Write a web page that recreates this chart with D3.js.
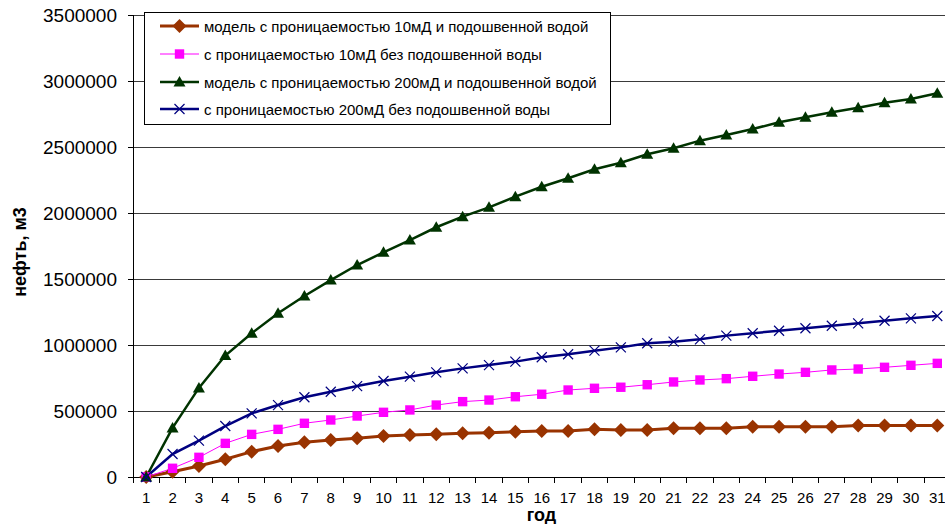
<!DOCTYPE html>
<html>
<head>
<meta charset="utf-8">
<script src="https://cdn.jsdelivr.net/npm/d3@7"></script>
<style>
  body { margin: 0; background: #fff; }
  svg { display: block; font-family: "Liberation Sans", Arial, sans-serif; }
</style>
</head>
<body>
<svg id="chart" width="945" height="524"></svg>
<script>
// годы (категории оси X)
const years = d3.range(1, 32);

// добыча нефти, м3
const k10water = [0, 40000, 83000, 134000, 192000, 235000, 263000, 280000, 293000, 311000,
  318000, 323000, 331000, 336000, 343000, 348000, 348000, 361000, 356000, 356000,
  369000, 369000, 369000, 381000, 381000, 381000, 381000, 391000, 391000, 391000, 391000];
const k10dry = [0, 66000, 149000, 255000, 323000, 361000, 407000, 432000, 462000, 490000,
  508000, 545000, 571000, 583000, 608000, 627000, 659000, 672000, 680000, 699000,
  720000, 735000, 745000, 763000, 780000, 793000, 811000, 818000, 831000, 846000, 861000];
const k200water = [0, 372000, 675000, 920000, 1089000, 1240000, 1371000, 1492000, 1606000, 1702000,
  1795000, 1892000, 1972000, 2043000, 2124000, 2199000, 2263000, 2331000, 2381000, 2445000,
  2490000, 2548000, 2591000, 2636000, 2687000, 2725000, 2763000, 2798000, 2836000, 2864000, 2907000];
const k200dry = [0, 174000, 275000, 386000, 482000, 545000, 604000, 646000, 689000, 727000,
  760000, 793000, 823000, 848000, 874000, 907000, 930000, 957000, 982000, 1013000,
  1025000, 1043000, 1071000, 1089000, 1108000, 1127000, 1146000, 1164000, 1184000, 1202000, 1220000];

const yTicks = d3.range(0, 3500001, 500000);

const seriesNames = [
  "модель с проницаемостью 10мД и подошвенной водой",
  "с проницаемостью 10мД без подошвенной воды",
  "модель с проницаемостью 200мД и подошвенной водой",
  "с проницаемостью 200мД без подошвенной воды"
];

const series = [
  { name: seriesNames[0], values: k10water, color: "#993300", width: 3, marker: "diamond", size: 7 },
  { name: seriesNames[1], values: k10dry, color: "#ff00ff", width: 1, marker: "square", size: 4.7 },
  { name: seriesNames[2], values: k200water, color: "#003300", width: 2.5, marker: "triangle", size: 6 },
  { name: seriesNames[3], values: k200dry, color: "#000080", width: 2.5, marker: "cross", size: 5 }
];

const svg = d3.select("#chart");
const margin = { left: 133, top: 15, bottom: 477 };
const bandW = 26.37;

const x = d3.scaleBand()
  .domain(years)
  .range([margin.left, margin.left + years.length * bandW])
  .padding(0);
const y = d3.scaleLinear()
  .domain([0, 3500000])
  .range([margin.bottom, margin.top]);

const cx = d => x(d) + x.bandwidth() / 2;

// сетка
svg.append("g")
  .selectAll("line")
  .data(yTicks.filter(t => t > 0))
  .join("line")
  .attr("x1", margin.left).attr("x2", 945)
  .attr("y1", d => y(d)).attr("y2", d => y(d))
  .attr("stroke", "#3a3a3a")
  .attr("stroke-width", 1)
  .attr("shape-rendering", "crispEdges");

// ось Y
const yAxis = svg.append("g")
  .attr("transform", `translate(${margin.left},0)`)
  .call(d3.axisLeft(y).tickValues(yTicks).tickSize(5).tickPadding(11).tickFormat(d3.format("d")));
yAxis.select(".domain").attr("stroke", "#000").attr("shape-rendering", "crispEdges");
yAxis.selectAll(".tick line").attr("stroke", "#000").attr("shape-rendering", "crispEdges");
yAxis.selectAll("text")
  .attr("fill", "#000")
  .style("font-size", "19px")
  .style("font-family", "'Liberation Sans', Arial, sans-serif");

// ось X
svg.append("line")
  .attr("x1", margin.left).attr("x2", 945)
  .attr("y1", y(0)).attr("y2", y(0))
  .attr("stroke", "#000")
  .attr("shape-rendering", "crispEdges");

svg.append("g")
  .selectAll("line")
  .data(years)
  .join("line")
  .attr("x1", d => x(d)).attr("x2", d => x(d))
  .attr("y1", y(0)).attr("y2", y(0) + 6)
  .attr("stroke", "#000")
  .attr("shape-rendering", "crispEdges");

svg.append("g")
  .selectAll("text")
  .data(years)
  .join("text")
  .attr("x", cx)
  .attr("y", 503)
  .attr("text-anchor", "middle")
  .style("font-size", "15px")
  .text(d => d);

// подписи осей
svg.append("text")
  .attr("x", (margin.left + 950) / 2)
  .attr("y", 521)
  .attr("text-anchor", "middle")
  .style("font-size", "18px")
  .style("font-weight", "bold")
  .text("год");

svg.append("text")
  .attr("transform", "translate(26,252) rotate(-90)")
  .attr("text-anchor", "middle")
  .style("font-size", "18px")
  .style("font-weight", "bold")
  .text("нефть, м3");

// линии рядов
const line = d3.line()
  .x((d, i) => cx(years[i]))
  .y(d => y(d));

function markerPath(type, h) {
  if (type === "diamond") return `M0,${-h}L${h},0L0,${h}L${-h},0Z`;
  if (type === "square") return `M${-h},${-h}H${h}V${h}H${-h}Z`;
  if (type === "triangle") return `M0,${-h}L${h},${h * 0.75}L${-h},${h * 0.75}Z`;
  return `M${-h},${-h}L${h},${h}M${-h},${h}L${h},${-h}`;
}

function drawMarker(g, s) {
  const p = g.append("path").attr("d", markerPath(s.marker, s.size));
  if (s.marker === "cross") {
    p.attr("stroke", s.color).attr("stroke-width", 1.2).attr("fill", "none");
  } else {
    p.attr("fill", s.color);
  }
}

const plot = svg.append("g");
series.forEach(s => {
  plot.append("path")
    .datum(s.values)
    .attr("d", line)
    .attr("fill", "none")
    .attr("stroke", s.color)
    .attr("stroke-width", s.width);
});
series.forEach(s => {
  s.values.forEach((v, i) => {
    const g = plot.append("g").attr("transform", `translate(${cx(years[i])},${y(v)})`);
    drawMarker(g, s);
  });
});

// легенда
const legend = svg.append("g");
legend.append("rect")
  .attr("x", 144.5).attr("y", 12.5)
  .attr("width", 466).attr("height", 112)
  .attr("fill", "#fff")
  .attr("stroke", "#000")
  .attr("stroke-width", 1);

const legendY = [26, 54, 82, 109];
series.forEach((s, i) => {
  const row = legend.append("g").attr("transform", `translate(0,${legendY[i]})`);
  row.append("line")
    .attr("x1", 160).attr("x2", 199)
    .attr("stroke", s.color)
    .attr("stroke-width", s.width);
  const g = row.append("g").attr("transform", "translate(179.5,0)");
  drawMarker(g, s);
  row.append("text")
    .attr("x", 204)
    .attr("y", 5.5)
    .style("font-size", "15px")
    .text(s.name);
});
</script>
</body>
</html>
